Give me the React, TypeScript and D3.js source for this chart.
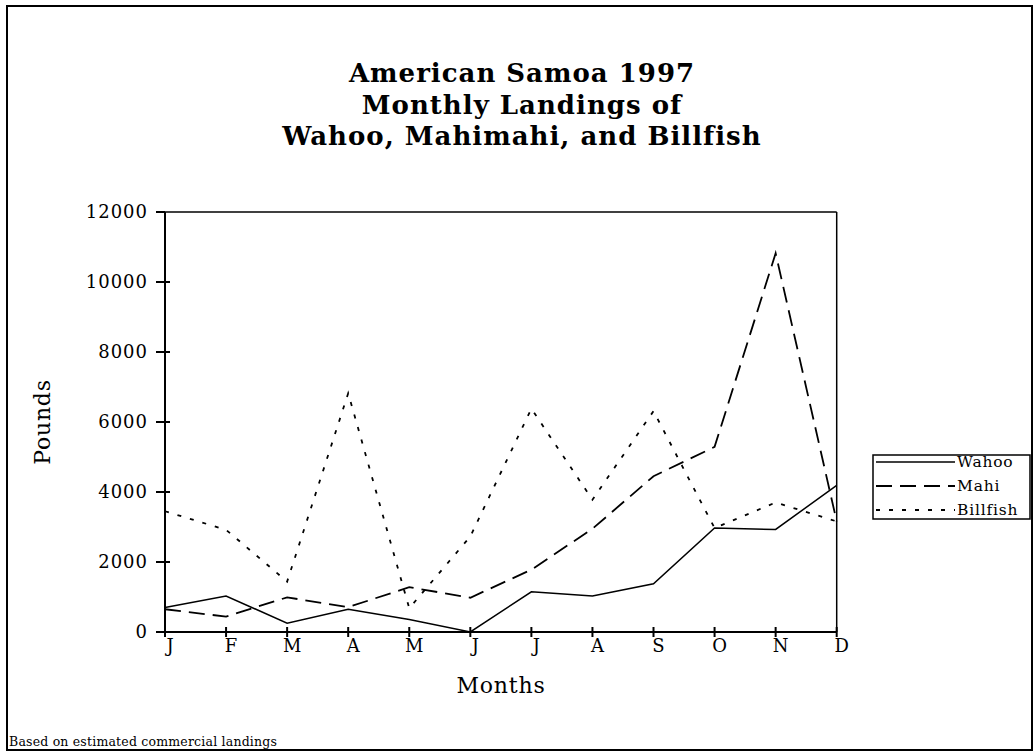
import React from "react";
import * as d3 from "d3";

const months = ["J", "F", "M", "A", "M", "J", "J", "A", "S", "O", "N", "D"];
const wahoo = [700, 1030, 250, 650, 360, 0, 1150, 1030, 1380, 2970, 2930, 4190];
const mahi = [650, 440, 990, 710, 1280, 980, 1780, 2950, 4450, 5290, 10820, 3160];
const billfish = [3450, 2920, 1440, 6820, 680, 2730, 6380, 3780, 6310, 2970, 3700, 3160];
const yTicks = [0, 2000, 4000, 6000, 8000, 10000, 12000];
const seriesNames = ["Wahoo", "Mahi", "Billfish"];
const titleLines = ["American Samoa 1997", "Monthly Landings of", "Wahoo, Mahimahi, and Billfish"];

const FONT = "'DejaVu Serif', 'Liberation Serif', serif";

export default function App() {
  const x = d3.scaleLinear().domain([0, months.length - 1]).range([165, 836.7]);
  const y = d3.scaleLinear().domain([0, 12000]).range([632, 212]);
  const line = d3
    .line<number>()
    .x((_, i) => x(i))
    .y((d) => y(d));

  const series = [
    { name: seriesNames[0], data: wahoo, dash: "none", w: 1.5 },
    { name: seriesNames[1], data: mahi, dash: "16,8", w: 1.8 },
    { name: seriesNames[2], data: billfish, dash: "4,9", w: 1.8 },
  ];

  return (
    <svg
      width={1033}
      height={752}
      style={{ position: "absolute", left: 0, top: 0, background: "#fff" }}
      fontFamily={FONT}
    >
      <rect x={7} y={6} width={1025} height={744} fill="#fff" stroke="#000" strokeWidth={2} />
      {titleLines.map((t, i) => (
        <text
          key={i}
          x={522}
          y={82 + i * 31.5}
          textAnchor="middle"
          fontWeight="bold"
          fontSize={26}
          letterSpacing={1}
        >
          {t}
        </text>
      ))}

      {/* plot frame */}
      <line x1={x(0)} x2={x(11)} y1={y(12000)} y2={y(12000)} stroke="#000" strokeWidth={1.5} />
      <line x1={x(11)} x2={x(11)} y1={y(12000)} y2={y(0)} stroke="#000" strokeWidth={1.5} />
      <line x1={x(0)} x2={x(0)} y1={y(12000)} y2={y(0)} stroke="#000" strokeWidth={2} />
      <line x1={x(0) - 9} x2={x(11)} y1={y(0)} y2={y(0)} stroke="#000" strokeWidth={2} />

      {yTicks.map((t) => (
        <g key={t}>
          <line x1={x(0) - 9} x2={t === 12000 ? x(0) : x(0) + 5} y1={y(t)} y2={y(t)} stroke="#000" strokeWidth={2} />
          <text x={148} y={y(t)} dy="0.36em" textAnchor="end" fontSize={18} letterSpacing={1}>
            {t}
          </text>
        </g>
      ))}
      {months.map((m, i) => (
        <g key={i}>
          <line x1={x(i)} x2={x(i)} y1={y(0) - 5} y2={y(0) + 5} stroke="#000" strokeWidth={2} />
          <text x={x(i) + 5} y={652} textAnchor="middle" fontSize={18}>
            {m}
          </text>
        </g>
      ))}

      <text x={501} y={693} textAnchor="middle" fontSize={22} letterSpacing={0.8}>
        Months
      </text>
      <text
        transform={`translate(50,422) rotate(-90)`}
        textAnchor="middle"
        fontSize={22}
        letterSpacing={0.8}
      >
        Pounds
      </text>

      {series.map((s) => (
        <path
          key={s.name}
          d={line(s.data) || ""}
          fill="none"
          stroke="#000"
          strokeWidth={s.w}
          strokeDasharray={s.dash}
        />
      ))}

      {/* legend */}
      <rect x={873} y={455} width={157} height={64} fill="#fff" stroke="#000" strokeWidth={1.5} />
      {series.map((s, i) => (
        <g key={s.name}>
          <line
            x1={876}
            x2={955}
            y1={462 + i * 24}
            y2={462 + i * 24}
            stroke="#000"
            strokeWidth={s.w}
            strokeDasharray={s.dash}
          />
          <text x={957} y={462 + i * 24} dy="0.35em" fontSize={15.5} letterSpacing={0.8}>
            {s.name}
          </text>
        </g>
      ))}

      <text x={9} y={746} fontSize={12.5} letterSpacing={0.2}>
        Based on estimated commercial landings
      </text>
    </svg>
  );
}
